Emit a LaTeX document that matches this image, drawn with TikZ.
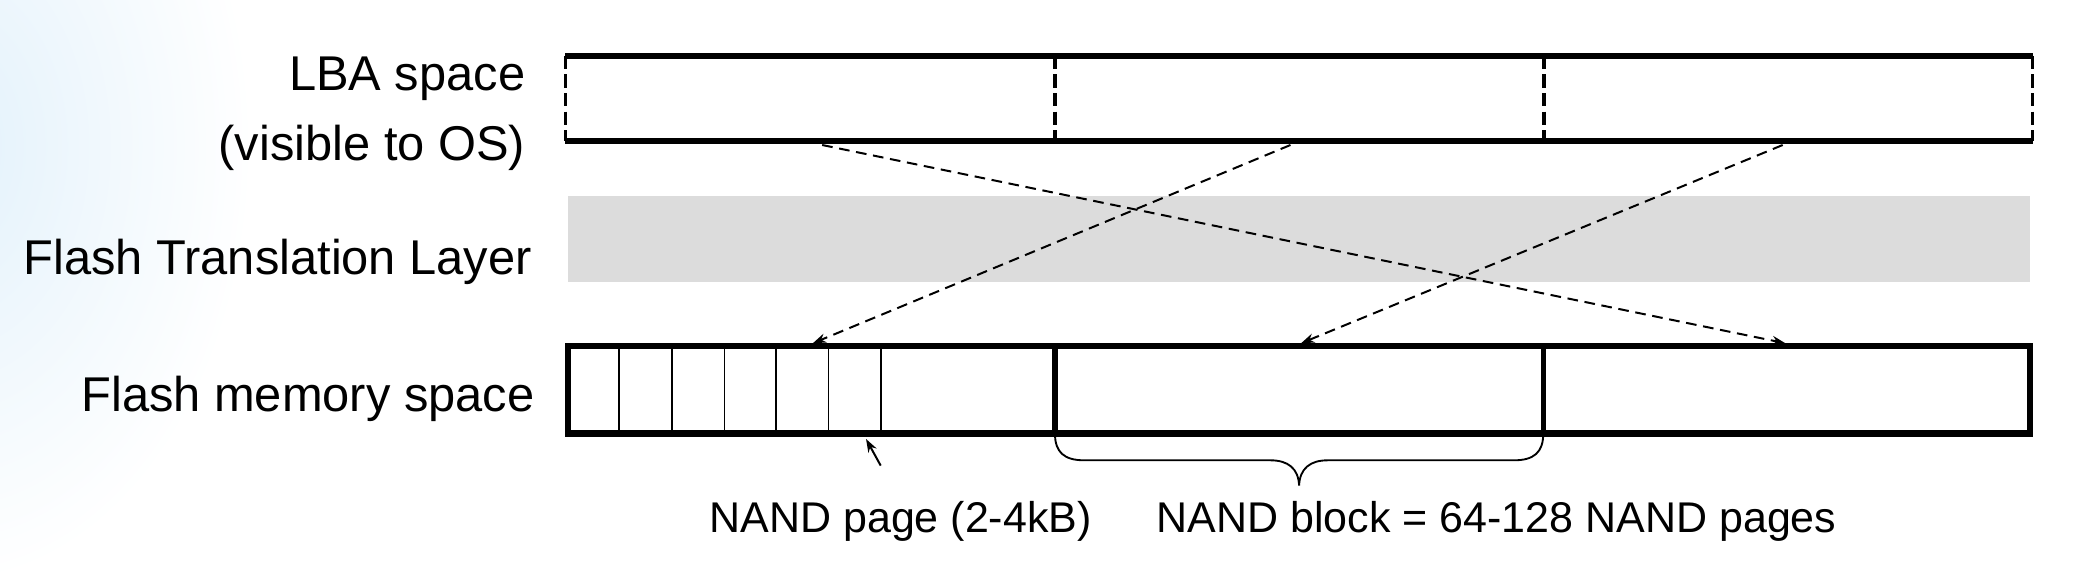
\documentclass[tikz,border=0pt]{standalone}
\usepackage{fontspec}
\setmainfont{Liberation Sans}
\usetikzlibrary{arrows.meta}
\definecolor{ftlgray}{RGB}{220,220,220}
\definecolor{bgblue}{RGB}{226,241,251}
\tikzset{
  lbl/.style={anchor=base east, inner sep=0pt, font=\fontsize{36.7}{44}\selectfont},
  sublbl/.style={anchor=base, inner sep=0pt, font=\fontsize{32.3}{39}\selectfont},
  thickedge/.style={line width=4.6pt},
  dashedge/.style={line width=2.2pt, dash pattern=on 10pt off 4pt},
  dashdiv/.style={line width=3pt, dash pattern=on 10pt off 4pt},
  pageline/.style={line width=1.4pt},
  blockdiv/.style={line width=4pt},
  maparrow/.style={line width=1.5pt, dash pattern=on 8pt off 5pt, -{Stealth[length=10pt,width=7pt]}},
  ptr/.style={line width=1.5pt, -{Stealth[length=10pt,width=7pt]}}
}
\begin{document}
\begin{tikzpicture}[x=1pt,y=1pt]
\useasboundingbox (0,0) rectangle (1568,-430);
% background tint
\begin{scope}
\clip (0,0) rectangle (400,-430);
\shade[inner color=bgblue, outer color=white] (-40,-110) ellipse (230 and 330);
\end{scope}

% labels
\node[lbl] (lba1) at (395,-68) {LBA space};
\node[lbl] (lba2) at (395,-121) {(visible to OS)};
\node[lbl] (ftl) at (400,-206) {Flash Translation Layer};
\node[lbl] (fms) at (402,-309) {Flash memory space};

% LBA space box
\draw[thickedge] (425,-42) -- (1528,-42);
\draw[thickedge] (425,-106) -- (1528,-106);
\draw[dashedge] (425,-42) -- (425,-106);
\draw[dashedge] (1528,-42) -- (1528,-106);
\draw[dashdiv] (792.7,-42) -- (792.7,-106);
\draw[dashdiv] (1160.3,-42) -- (1160.3,-106);

% FTL
\fill[ftlgray] (427,-147) rectangle (1526,-212);

% Flash memory box
\foreach \x in {465.5,505,544.6,583.6,622.8,662}
  \draw[pageline] (\x,-260) -- (\x,-326);
\draw[blockdiv] (793,-260) -- (793,-326);
\draw[blockdiv] (1160,-260) -- (1160,-326);
\draw[line width=5pt] (427,-260) rectangle (1526,-326);

% mapping arrows
\coordinate (s1) at (618,-109);
\coordinate (s2) at (970,-109);
\coordinate (s3) at (1340,-109);
\coordinate (t1) at (1342,-258);
\coordinate (t2) at (611,-258);
\coordinate (t3) at (978,-258);
\draw[maparrow] (s1) -- (t1);
\draw[maparrow] (s2) -- (t2);
\draw[maparrow] (s3) -- (t3);

% NAND page pointer
\coordinate (pt) at (662,-350);
\coordinate (ph) at (651,-330);
\draw[ptr] (pt) -- (ph);

% brace
\draw[line width=1.4pt] (793,-326) .. controls (793,-340) and (800,-346) .. (815,-346)
  -- (955,-346) .. controls (968,-346) and (976,-352) .. (976.5,-365)
  .. controls (977,-352) and (985,-346) .. (998,-346)
  -- (1138,-346) .. controls (1153,-346) and (1160,-340) .. (1160,-326);

% bottom labels
\node[sublbl] (np) at (677,-400) {NAND page (2-4kB)};
\node[sublbl] (nb) at (1125,-400) {NAND block = 64-128 NAND pages};
\end{tikzpicture}
\end{document}
